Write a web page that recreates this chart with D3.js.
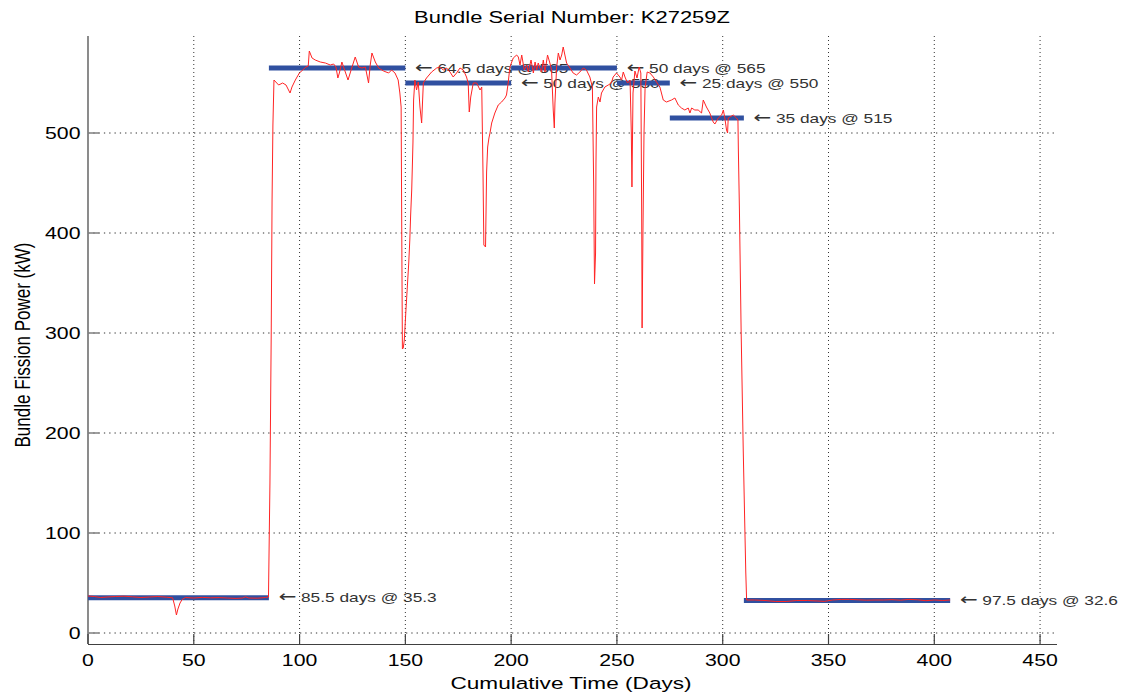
<!DOCTYPE html>
<html>
<head>
<meta charset="utf-8">
<script src="https://cdn.jsdelivr.net/npm/d3@7"></script>
<style>
  html, body { margin: 0; padding: 0; background: #fff; }
  svg { display: block; }
  text { font-family: "Liberation Sans", Arial, Helvetica, sans-serif; }
</style>
</head>
<body>
<svg id="chart" width="1128" height="698"></svg>
<script>
// ---------- data ----------
const chartTitle = "Bundle Serial Number: K27259Z";
const xLabel = "Cumulative Time (Days)";
const yLabel = "Bundle Fission Power (kW)";

const xTicks = [0, 50, 100, 150, 200, 250, 300, 350, 400, 450];
const yTicks = [0, 100, 200, 300, 400, 500];

// red power history: cumulative days
const timeDays = [
  0, 3, 6, 9, 13, 17, 21, 25, 29, 33, 37, 40, 41, 41.8, 42.5, 43.5, 44.5, 46, 50, 54, 58, 62, 66, 70, 73, 74.5, 76, 80, 84, 85.3,
  86.0, 86.6, 87.0, 87.4, 87.9,
  90.1, 92, 93.6, 95.5, 96.4, 98, 99.9, 101.5, 103, 104.1, 104.6, 105.9, 107.4, 109.8, 112.2, 114.5, 116.1, 117.2, 118.1, 118.8,
  120, 120.8, 122.9, 124.8, 126.3, 127.9, 129.5, 131.1, 132.6, 133.4, 134.2, 135.8, 137.4, 139.7, 142.1, 143.5, 145.1, 146.6,
  147.4, 148.0, 148.3, 148.6, 149.0, 149.5, 150.2, 150.9, 151.6, 152.1, 152.5, 153.0, 153.3, 153.6, 153.9, 154.5, 155.3, 156.1,
  156.9, 157.7, 158.5, 160.0, 162.4, 164.8, 166.4, 167.9, 169.5, 171.1, 172.6, 174.2, 175.8, 177.4, 178.9, 179.7, 180.2, 180.9,
  182.1, 183.7, 185.3, 186.1, 186.7, 187.1, 187.9, 188.4, 188.9, 189.5, 190.0, 190.8, 192.3, 193.9, 195.5, 197.1, 197.8, 198.6,
  199.4, 201, 202.6, 203.4, 204.2, 205, 206.2, 207.4, 208.1, 209.4, 210.5, 211.3, 212.1, 212.8, 213.6, 214.4, 215.2, 216, 217.2,
  218.3, 219.1, 219.9, 220.4, 220.7, 221.5, 222.3, 223.1, 223.9, 224.6, 225.4, 226.2, 227.8, 229.3, 230.9, 232.5, 234.1, 235.6,
  237.2, 238.4, 239.0, 239.4, 239.9, 240.1, 240.4, 241.2, 242, 242.7, 243.5, 244.3, 245.9, 247.4, 248.2, 249, 249.8, 251.4, 252.2,
  253, 253.8, 255, 256.2, 256.8, 257.1, 257.6, 258.5, 259.5, 260.5, 261.3, 261.7, 261.9, 262.3, 262.8, 263.3, 264.3, 265.6, 267.2,
  268.7, 270.3, 271.9, 273.4, 275.8, 277.4, 279, 280.5, 282.1, 283.7, 284.5, 285.3, 286.8, 288.4, 290, 290.8, 292.3, 293.9, 295.5,
  296.3, 297.9, 299.5, 300.3, 301, 301.8, 302.3, 302.6, 303.4, 305, 306.5, 307.2,
  307.4, 307.9, 308.3, 308.7, 309.2, 309.7, 310.3, 310.9, 311.3,
  315, 320, 325, 330, 335, 340, 345, 348, 352, 356, 360, 364, 368, 372, 376, 380, 384, 388, 392, 396, 400, 404, 407.5
];
const powerKW = [
  37, 36.5, 35.5, 36, 36.5, 36.8, 36.2, 35.5, 36, 36.5, 35.8, 35.2, 27, 18, 24, 30, 33.5, 35.5, 35, 35.6, 35.2, 35.4, 35, 34.6, 35, 36.2, 35, 34.8, 35.5, 36,
  150, 300, 433, 508, 553,
  548, 550, 548, 540, 546, 553, 560, 563, 566, 567, 582, 575, 573, 571, 570, 568, 569, 566, 555, 560,
  571, 566, 553, 566, 576, 566, 565, 566, 550, 568, 580, 571, 565, 562, 560, 563, 560, 553,
  540, 526, 400, 284, 285, 293, 320, 345, 370, 393, 418, 443, 466, 491, 533, 553, 543, 551,
  526, 510, 550, 555, 561, 565, 566, 563, 565, 561, 556, 560, 565, 563, 556, 550, 521, 536,
  550, 550, 543, 546, 460, 388, 386, 461, 486, 495, 500, 510, 520, 528, 531, 535, 538, 550,
  566, 575, 578, 576, 568, 578, 563, 568, 561, 573, 560, 571, 563, 570, 565, 561, 573, 561, 578,
  570, 563, 523, 505, 530, 566, 580, 573, 578, 586, 578, 570, 565, 560, 558, 561, 565, 563,
  556, 546, 450, 349, 380, 470, 526, 536, 531, 540, 543, 546, 548, 550, 556, 558, 560, 556, 553,
  561, 556, 550, 553, 500, 446, 540, 562, 555, 566, 560, 420, 305, 400, 500, 545, 561, 560, 556,
  551, 546, 533, 531, 533, 535, 528, 525, 523, 525, 520, 525, 523, 523, 520, 533, 526, 520, 511,
  509, 515, 518, 523, 515, 503, 500, 515, 516, 518, 515, 513,
  483, 423, 363, 303, 243, 183, 121, 61, 33,
  33, 32.5, 31.5, 31.5, 32.5, 32.5, 32, 31.6, 33, 33.6, 33.6, 33.2, 32.8, 33, 33, 33.3, 32.8, 33.6, 33.2, 32.3, 33, 32.5, 33
];

// blue constant-power approximation segments
const segStart = [0, 85.5, 150, 200, 250, 275, 310];
const segDays  = [85.5, 64.5, 50, 50, 25, 35, 97.5];
const segPower = [35.3, 565, 550, 565, 550, 515, 32.6];

// ---------- chart ----------
const svg = d3.select("#chart");
const X0 = 88, X1 = 1057, Y0 = 644, Y1 = 36;
const STRETCH = 1.33;

const x = d3.scaleLinear().domain([0, 458]).range([X0, X1]);
const y = d3.scaleLinear().domain([-11, 597]).range([Y0, Y1]);

function stretched(g, px, py) {
  return g.append("g").attr("transform", `translate(${px},${py}) scale(${STRETCH},1)`);
}

// grid
const grid = svg.append("g");
grid.selectAll("line.vg").data(xTicks.filter(d => d > 0)).join("line")
  .attr("x1", d => x(d)).attr("x2", d => x(d))
  .attr("y1", Y1).attr("y2", Y0)
  .attr("stroke", "#333").attr("stroke-width", 1).attr("stroke-dasharray", "1,3");
grid.selectAll("line.hg").data(yTicks).join("line")
  .attr("x1", X0).attr("x2", X1)
  .attr("y1", d => y(d)).attr("y2", d => y(d))
  .attr("stroke", "#333").attr("stroke-width", 1).attr("stroke-dasharray", "1.3,4");

// axes
const xAxis = d3.axisBottom(x).tickValues(xTicks).tickSize(0).tickFormat("");
const yAxis = d3.axisLeft(y).tickValues(yTicks).tickSize(0).tickFormat("");
svg.append("g").attr("transform", `translate(0,${Y0})`).call(xAxis)
  .call(g => g.select(".domain").attr("d", `M${X0},0.5H${X1}`).attr("stroke", "#404040").attr("stroke-width", 1.2));
svg.append("g").attr("transform", `translate(${X0},0)`).call(yAxis)
  .call(g => g.select(".domain").attr("d", `M0,${Y1}V${Y0}`).attr("stroke", "#7f7f7f").attr("stroke-width", 1.8));

// inward ticks
svg.append("g").selectAll("line").data(xTicks).join("line")
  .attr("x1", d => x(d)).attr("x2", d => x(d))
  .attr("y1", Y0).attr("y2", Y0 - 10)
  .attr("stroke", "#404040").attr("stroke-width", 1.2);
svg.append("g").selectAll("line").data(yTicks).join("line")
  .attr("x1", X0).attr("x2", X0 + 11)
  .attr("y1", d => y(d)).attr("y2", d => y(d))
  .attr("stroke", "#7f7f7f").attr("stroke-width", 1.5);

// tick labels
const tl = svg.append("g");
xTicks.forEach(d => {
  stretched(tl, x(d), 660).append("text")
    .attr("text-anchor", "middle").attr("dy", "0.36em")
    .attr("font-size", 16).attr("fill", "#000").text(d);
});
yTicks.forEach(d => {
  stretched(tl, 80.5, y(d)).append("text")
    .attr("text-anchor", "end").attr("dy", "0.36em")
    .attr("font-size", 16).attr("fill", "#000").text(d);
});

// title and axis labels
stretched(svg, 572, 17).append("text")
  .attr("text-anchor", "middle").attr("dy", "0.36em")
  .attr("font-size", 16.5).attr("fill", "#000").text(chartTitle);
stretched(svg, 571, 683).append("text")
  .attr("text-anchor", "middle").attr("dy", "0.36em")
  .attr("font-size", 17).attr("fill", "#000").text(xLabel);
stretched(svg, 22, 345).append("text")
  .attr("transform", "rotate(-90)")
  .attr("text-anchor", "middle").attr("dy", "0.36em")
  .attr("font-size", 17).attr("fill", "#000").text(yLabel);

// annotations (drawn beneath the lines)
const ann = svg.append("g");
segStart.forEach((s, i) => {
  const t = stretched(ann, x(s + segDays[i]) + 9.5, y(segPower[i])).append("text")
    .attr("dy", "0.36em").attr("font-size", 13).attr("fill", "#333");
  t.append("tspan").attr("font-family", "DejaVu Sans").attr("font-size", 16).text("\u2190");
  t.append("tspan").text(` ${segDays[i]} days @ ${segPower[i]}`);
});

// blue segments
svg.append("g").selectAll("line").data(segStart).join("line")
  .attr("x1", d => x(d))
  .attr("x2", (d, i) => x(d + segDays[i]))
  .attr("y1", (d, i) => y(segPower[i]))
  .attr("y2", (d, i) => y(segPower[i]))
  .attr("stroke", "#3050a0").attr("stroke-width", 5);

// red power line
const pts = timeDays.map((t, i) => [t, powerKW[i]]);
svg.append("path").datum(pts)
  .attr("d", d3.line().x(d => x(d[0])).y(d => y(d[1])))
  .attr("fill", "none").attr("stroke", "#ff2424").attr("stroke-width", 1)
  .attr("stroke-linejoin", "round");
</script>
</body>
</html>
